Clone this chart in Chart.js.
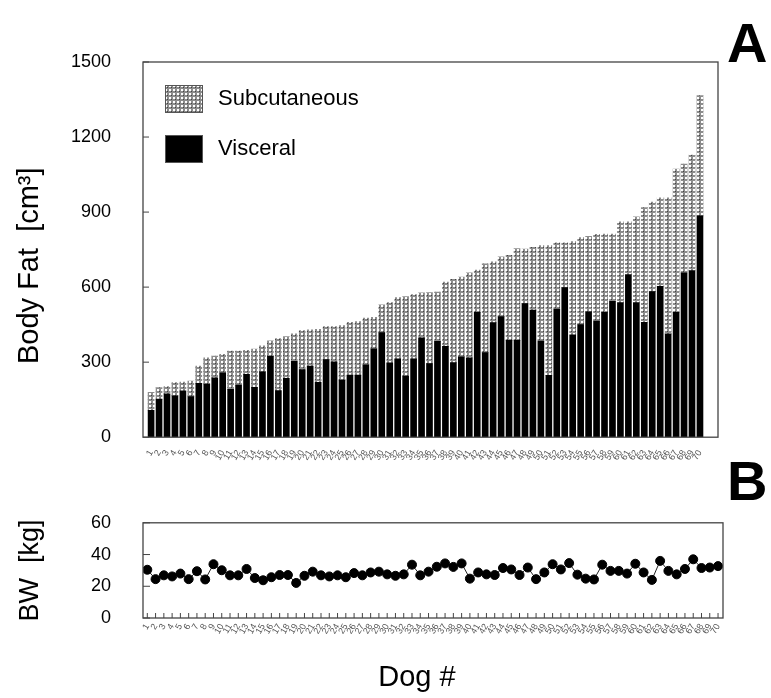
<!DOCTYPE html>
<html><head><meta charset="utf-8">
<script src="https://cdn.jsdelivr.net/npm/chart.js@4.4.0/dist/chart.umd.min.js"></script>
<style>
html,body{margin:0;padding:0;background:#fff;width:771px;height:698px;overflow:hidden;font-family:"Liberation Sans",Arial,sans-serif;}
#ca{position:absolute;left:0;top:0;}
#cb{position:absolute;left:0;top:480px;}
.panel{position:absolute;font-weight:bold;font-size:56px;color:#000;line-height:1;font-family:"Liberation Sans",Arial,sans-serif;}
</style></head><body>
<canvas id="ca" width="771" height="480"></canvas>
<canvas id="cb" width="771" height="218"></canvas>
<div class="panel" style="left:727px;top:15px">A</div>
<div class="panel" style="left:727px;top:453px">B</div>
<script>
// ---- data ----
const dogIds = ['1','2','3','4','5','6','7','8','9','10','11','12','13','14','15','16','17','18','19','20',
 '21','22','23','24','25','26','27','28','29','30','31','32','33','34','35','36','37','38','39','40',
 '41','42','43','44','45','46','47','48','49','50','51','52','53','54','55','56','57','58','59','60',
 '61','62','63','64','65','66','67','68','69','70'];
const visceral = [107,152,173,165,185,162,215,212,237,257,191,208,251,199,261,323,186,235,303,270,
 284,219,310,301,228,248,248,289,353,418,297,313,244,313,397,294,383,363,298,321,
 317,499,338,458,482,387,387,534,508,384,247,512,598,409,450,501,464,499,543,538,
 650,538,459,582,603,413,499,657,666,885];
const subcutaneous = [72,46,29,53,35,62,69,105,87,74,153,136,96,153,104,62,208,167,110,156,
 145,212,132,141,218,211,214,187,126,111,241,245,318,257,180,284,197,257,333,319,
 340,169,355,243,239,340,367,218,251,382,519,265,179,373,348,302,347,313,269,323,
 211,343,459,358,354,544,573,435,462,481];
const bodyWeight = [30.4,24.5,26.9,26.2,28.0,24.5,29.5,24.3,33.9,30.1,26.9,26.9,30.9,25.2,23.8,25.7,27.1,27.1,22.1,26.6,
 29.2,26.9,26.2,26.9,25.7,28.3,26.9,28.7,29.2,27.5,26.6,27.5,33.6,26.9,29.2,32.3,34.4,32.2,34.4,24.8,
 28.7,27.5,27.1,31.5,30.6,27.1,31.8,24.5,28.7,33.9,30.6,34.6,27.3,24.8,24.3,33.6,29.7,29.7,28.0,34.2,
 28.7,24.0,36.0,29.7,27.5,30.9,37.0,31.5,31.8,32.7];
const fatTicks = [0,300,600,900,1200,1500];
const bwTicks = [0,20,40,60];

const FONT = '"Liberation Sans", Arial, sans-serif';
Chart.defaults.font.family = FONT;
Chart.defaults.color = '#000';

function hatch(){
  const c = document.createElement('canvas'); c.width = 4; c.height = 4;
  const g = c.getContext('2d');
  g.fillStyle = '#8c8c8c'; g.fillRect(0,0,4,4);
  g.fillStyle = '#ffffff'; g.fillRect(1,1,2,2);
  g.fillStyle = '#444444'; g.fillRect(3,3,1,1);
  return g.createPattern(c, 'repeat');
}
const hatchFill = hatch();

const framePlugin = {
  id: 'frame',
  afterDraw(ch, args, opts){
    const {ctx, chartArea: a} = ch;
    ctx.save();
    ctx.strokeStyle = '#444'; ctx.lineWidth = 1.3;
    ctx.strokeRect(a.left, a.top, a.right - a.left, a.bottom - a.top);
    ctx.beginPath();
    if (opts.xLen) {
      ch.scales.x.ticks.forEach(t => {
        const px = ch.scales.x.getPixelForValue(t.value);
        ctx.moveTo(px, a.bottom); ctx.lineTo(px, a.bottom - opts.xLen);
      });
    }
    if (opts.yLen) {
      ch.scales.y.ticks.forEach(t => {
        const py = ch.scales.y.getPixelForValue(t.value);
        ctx.moveTo(a.left, py); ctx.lineTo(a.left + opts.yLen, py);
      });
    }
    ctx.lineWidth = 1; ctx.stroke();
    ctx.restore();
  }
};

const boxLegend = {
  id: 'boxLegend',
  afterDraw(ch){
    const ctx = ch.ctx;
    const items = [ch.data.datasets[1], ch.data.datasets[0]];
    ctx.save();
    ctx.font = '22px ' + FONT;
    ctx.textBaseline = 'middle';
    items.forEach((ds, i) => {
      const y = 85 + i * 50;
      ctx.fillStyle = ds.backgroundColor;
      ctx.fillRect(165, y, 38, 28);
      ctx.strokeStyle = '#555'; ctx.lineWidth = 1;
      ctx.strokeRect(165.5, y + 0.5, 37, 27);
      ctx.fillStyle = '#000';
      ctx.fillText(ds.label, 218, y + 14);
    });
    ctx.restore();
  }
};

const xy = arr => arr.map((v, i) => ({x: i + 1, y: v}));
const catTicks = s => { s.ticks = dogIds.map((_, i) => ({value: i + 1})); };
const labelCb = v => dogIds[Math.round(v) - 1] || '';
const plainNum = v => String(v);

new Chart(document.getElementById('ca'), {
  type: 'bar',
  data: {
    datasets: [
      {label: 'Visceral', data: xy(visceral), backgroundColor: '#000', barThickness: 6, borderWidth: 0},
      {label: 'Subcutaneous', data: xy(subcutaneous), backgroundColor: hatchFill, barThickness: 6, borderWidth: 0}
    ]
  },
  options: {
    responsive: false, animation: false, devicePixelRatio: 1,
    layout: {padding: {top: 62, right: 53, left: 0, bottom: 0}},
    plugins: {legend: {display: false}, tooltip: {enabled: false}, frame: {yLen: 6}},
    scales: {
      x: {
        type: 'linear', min: 0.5, max: 71.75, stacked: true,
        grid: {display: false}, border: {display: false},
        afterBuildTicks: catTicks,
        afterFit: s => { s.height = 39; },
        ticks: {autoSkip: false, minRotation: 60, maxRotation: 60, padding: 3,
          font: {size: 9}, color: '#555', callback: labelCb}
      },
      y: {
        min: 0, max: 1500, stacked: true,
        grid: {display: false, drawTicks: false}, border: {display: false},
        afterBuildTicks: s => { s.ticks = fatTicks.map(v => ({value: v})); },
        afterFit: s => { s.width = 143; },
        ticks: {padding: 32, font: {size: 18}, color: '#000', callback: plainNum},
        title: {display: true, text: 'Body Fat  [cm³]    ', font: {size: 29}, padding: {top: 13, bottom: 0}, color: '#000'}
      }
    }
  },
  plugins: [framePlugin, boxLegend]
});

new Chart(document.getElementById('cb'), {
  type: 'line',
  data: {
    datasets: [
      {label: 'BW', data: xy(bodyWeight), borderColor: '#222', borderWidth: 1,
       pointRadius: 4.5, pointBackgroundColor: '#000', pointBorderColor: '#000', fill: false, tension: 0}
    ]
  },
  options: {
    responsive: false, animation: false, devicePixelRatio: 1,
    layout: {padding: {top: 23, right: 48, left: 0, bottom: 0}},
    plugins: {legend: {display: false}, tooltip: {enabled: false}, frame: {xLen: 5, yLen: 7}},
    scales: {
      x: {
        type: 'linear', min: 0.48, max: 70.6,
        grid: {display: false, drawTicks: false}, border: {display: false},
        afterBuildTicks: catTicks,
        afterFit: s => { s.height = 80; },
        ticks: {autoSkip: false, minRotation: 60, maxRotation: 60, padding: 4,
          font: {size: 9}, color: '#555', callback: labelCb},
        title: {display: true, text: 'Dog #    ', font: {size: 29}, padding: {top: 0, bottom: 3}, color: '#000'}
      },
      y: {
        min: 0, max: 60,
        grid: {display: false, drawTicks: false}, border: {display: false},
        afterBuildTicks: s => { s.ticks = bwTicks.map(v => ({value: v})); },
        afterFit: s => { s.width = 143; },
        ticks: {padding: 32, font: {size: 18}, color: '#000', callback: plainNum},
        title: {display: true, text: 'BW  [kg]', font: {size: 27}, padding: {top: 14, bottom: 0}, color: '#000'}
      }
    }
  },
  plugins: [framePlugin]
});
</script>
</body></html>
